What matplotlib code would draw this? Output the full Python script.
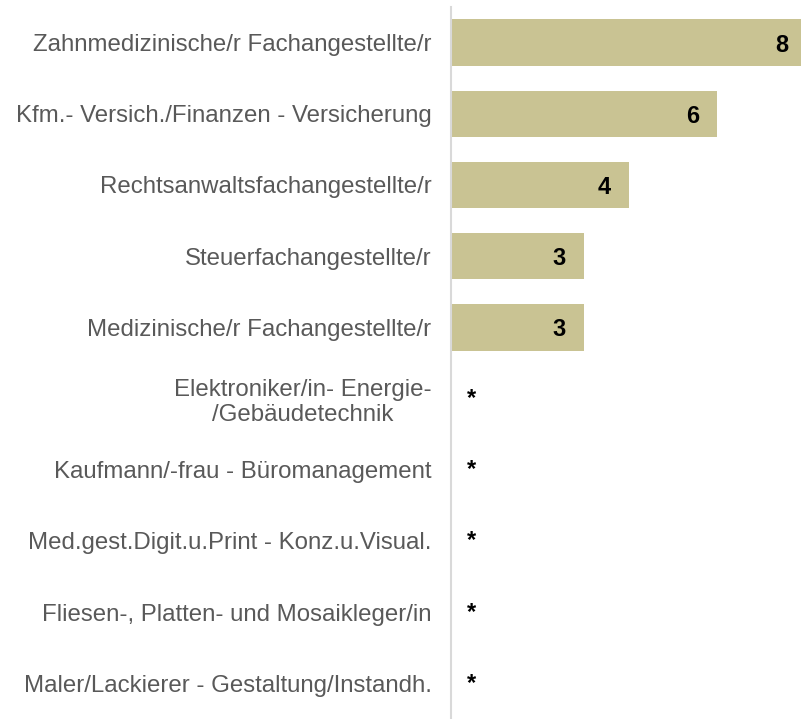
import numpy as np
import matplotlib.pyplot as plt

plt.rcParams['font.family'] = ['Liberation Sans', 'DejaVu Sans']

categories = ["Zahnmedizinische/r Fachangestellte/r",
              "Kfm.- Versich./Finanzen - Versicherung",
              "Rechtsanwaltsfachangestellte/r",
              "Steuerfachangestellte/r",
              "Medizinische/r Fachangestellte/r",
              "Elektroniker/in- Energie-\n/Gebäudetechnik",
              "Kaufmann/-frau - Büromanagement",
              "Med.gest.Digit.u.Print - Konz.u.Visual.",
              "Fliesen-, Platten- und Mosaikleger/in",
              "Maler/Lackierer - Gestaltung/Instandh."]
values = [8, 6, 4, 3, 3, 0, 0, 0, 0, 0]
labels = ["8", "6", "4", "3", "3", "*", "*", "*", "*", "*"]

fig = plt.figure(figsize=(8.01, 7.19), dpi=100)
ax = fig.add_axes([451/801, 0, 350/801, 712/719])

y = np.arange(len(categories))
ax.barh(y, values, height=0.65, color="#C9C393")
ax.set_xlim(0, 350/44.4)
ax.set_ylim(len(categories) - 0.5, -0.5)

for yi, v, lab in zip(y, values, labels):
    if v > 0:
        ax.text(v - 0.56, yi, lab, ha="center", va="center_baseline",
                fontsize=17, fontweight="bold", color="black")
    else:
        ax.text(0.47, yi, lab, ha="center", va="center",
                fontsize=17, fontweight="bold", color="black")

ax.set_yticks(y)
ax.set_yticklabels(categories, fontsize=17.3, color="#595959",
                   multialignment="center", linespacing=1.15)
ax.tick_params(axis="y", length=0, pad=14)
ax.set_xticks([])
for s in ["top", "right", "bottom"]:
    ax.spines[s].set_visible(False)
ax.spines["left"].set_color("#D9D9D9")
ax.spines["left"].set_linewidth(1.5)

fig.savefig("out.png", dpi=100)
